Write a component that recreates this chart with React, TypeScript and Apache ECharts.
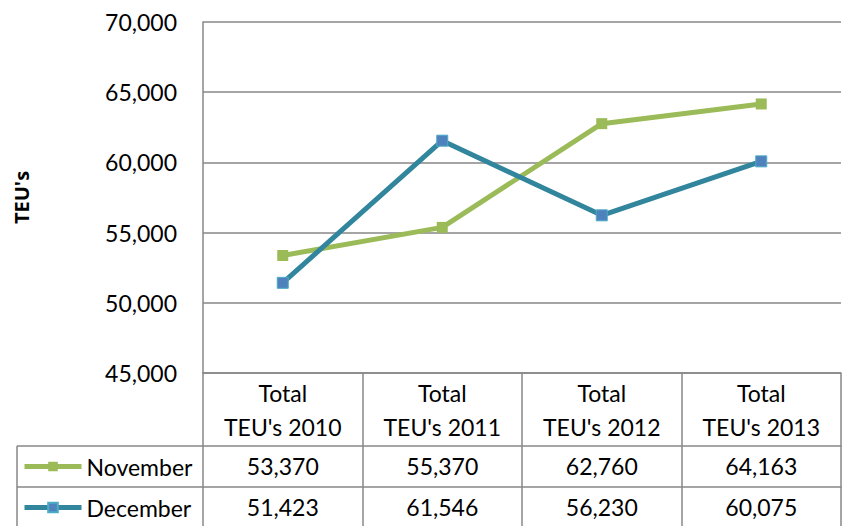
import React, { useEffect, useRef } from "react";
import * as echarts from "echarts";

const categories = ["Total\nTEU's 2010", "Total\nTEU's 2011", "Total\nTEU's 2012", "Total\nTEU's 2013"];
const november = [53370, 55370, 62760, 64163];
const december = [51423, 61546, 56230, 60075];
const yTicks = { min: 45000, max: 70000, interval: 5000 };

const FONT = "Lato";
const GRID_COLOR = "#878787";
const NOV_COLOR = "#9BBB59";
const DEC_LINE = "#31859C";
const DEC_MARK = "#4F81BD";
const fmt = (v: number) => v.toLocaleString("en-US");

export default function App() {
  const ref = useRef<HTMLDivElement>(null);
  useEffect(() => {
    document.body.style.margin = "0";
    const chart = echarts.init(ref.current!, undefined, { renderer: "svg" });
    const rowAxis = (data: string[], offset: number, tickLen: number) => ({
      type: "category",
      data,
      position: "bottom",
      offset,
      boundaryGap: true,
      axisLine: { show: true, lineStyle: { color: GRID_COLOR, width: 1.5 } },
      axisTick: { show: true, length: tickLen, lineStyle: { color: GRID_COLOR, width: 1.5 } },
      axisLabel: {
        interval: 0,
        margin: 3,
        fontFamily: FONT,
        fontSize: 23,
        lineHeight: 34,
        color: "#000",
        verticalAlign: "top",
      },
    });
    const legendFor = (name: string, top: number, line: string) => ({
      orient: "vertical",
      left: 22,
      top,
      itemWidth: 57,
      itemHeight: 12,
      padding: 0,
      lineStyle: { width: 5, color: line },
      textStyle: { fontFamily: FONT, fontSize: 23, color: "#000" },
      data: [name],
    });
    chart.setOption({
      animation: false,
      grid: { left: 203, right: 2, top: 22, bottom: 153, outerBoundsMode: "none", containLabel: false },
      legend: [
        legendFor("November", 455, NOV_COLOR),
        legendFor("December", 496, DEC_LINE),
      ],
      xAxis: [
        rowAxis(categories, 0, 73),
        rowAxis(november.map(fmt), 73, 41),
        rowAxis(december.map(fmt), 114, 60),
      ],
      yAxis: {
        type: "value",
        min: yTicks.min,
        max: yTicks.max,
        interval: yTicks.interval,
        name: "TEU's",
        nameLocation: "middle",
        nameGap: 172,
        nameRotate: 90,
        nameTextStyle: { fontFamily: "Open Sans", fontSize: 20, fontWeight: "bold", color: "#000" },
        axisLine: { show: true, lineStyle: { color: GRID_COLOR, width: 1.5 } },
        axisTick: { show: false },
        splitLine: { show: true, lineStyle: { color: GRID_COLOR, width: 1.5 } },
        axisLabel: {
          margin: 26,
          fontFamily: FONT,
          fontSize: 23,
          color: "#000",
          formatter: (v: number) => fmt(v),
        },
      },
      series: [
        {
          name: "November",
          type: "line",
          data: november,
          symbol: "rect",
          symbolSize: 11,
          lineStyle: { color: NOV_COLOR, width: 5 },
          itemStyle: { color: NOV_COLOR },
        },
        {
          name: "December",
          type: "line",
          data: december,
          symbol: "rect",
          symbolSize: 11,
          lineStyle: { color: DEC_LINE, width: 5 },
          itemStyle: { color: DEC_MARK, borderColor: "#4BACC6", borderWidth: 1 },
        },
      ],
      graphic: [
        { type: "line", shape: { x1: 17, y1: 446, x2: 203, y2: 446 }, style: { stroke: GRID_COLOR, lineWidth: 1.5 } },
        { type: "line", shape: { x1: 17, y1: 487, x2: 203, y2: 487 }, style: { stroke: GRID_COLOR, lineWidth: 1.5 } },
        { type: "line", shape: { x1: 17, y1: 446, x2: 17, y2: 540 }, style: { stroke: GRID_COLOR, lineWidth: 1.5 } },
      ],
    });
    return () => chart.dispose();
  }, []);
  return <div ref={ref} style={{ width: 843, height: 526 }} />;
}
